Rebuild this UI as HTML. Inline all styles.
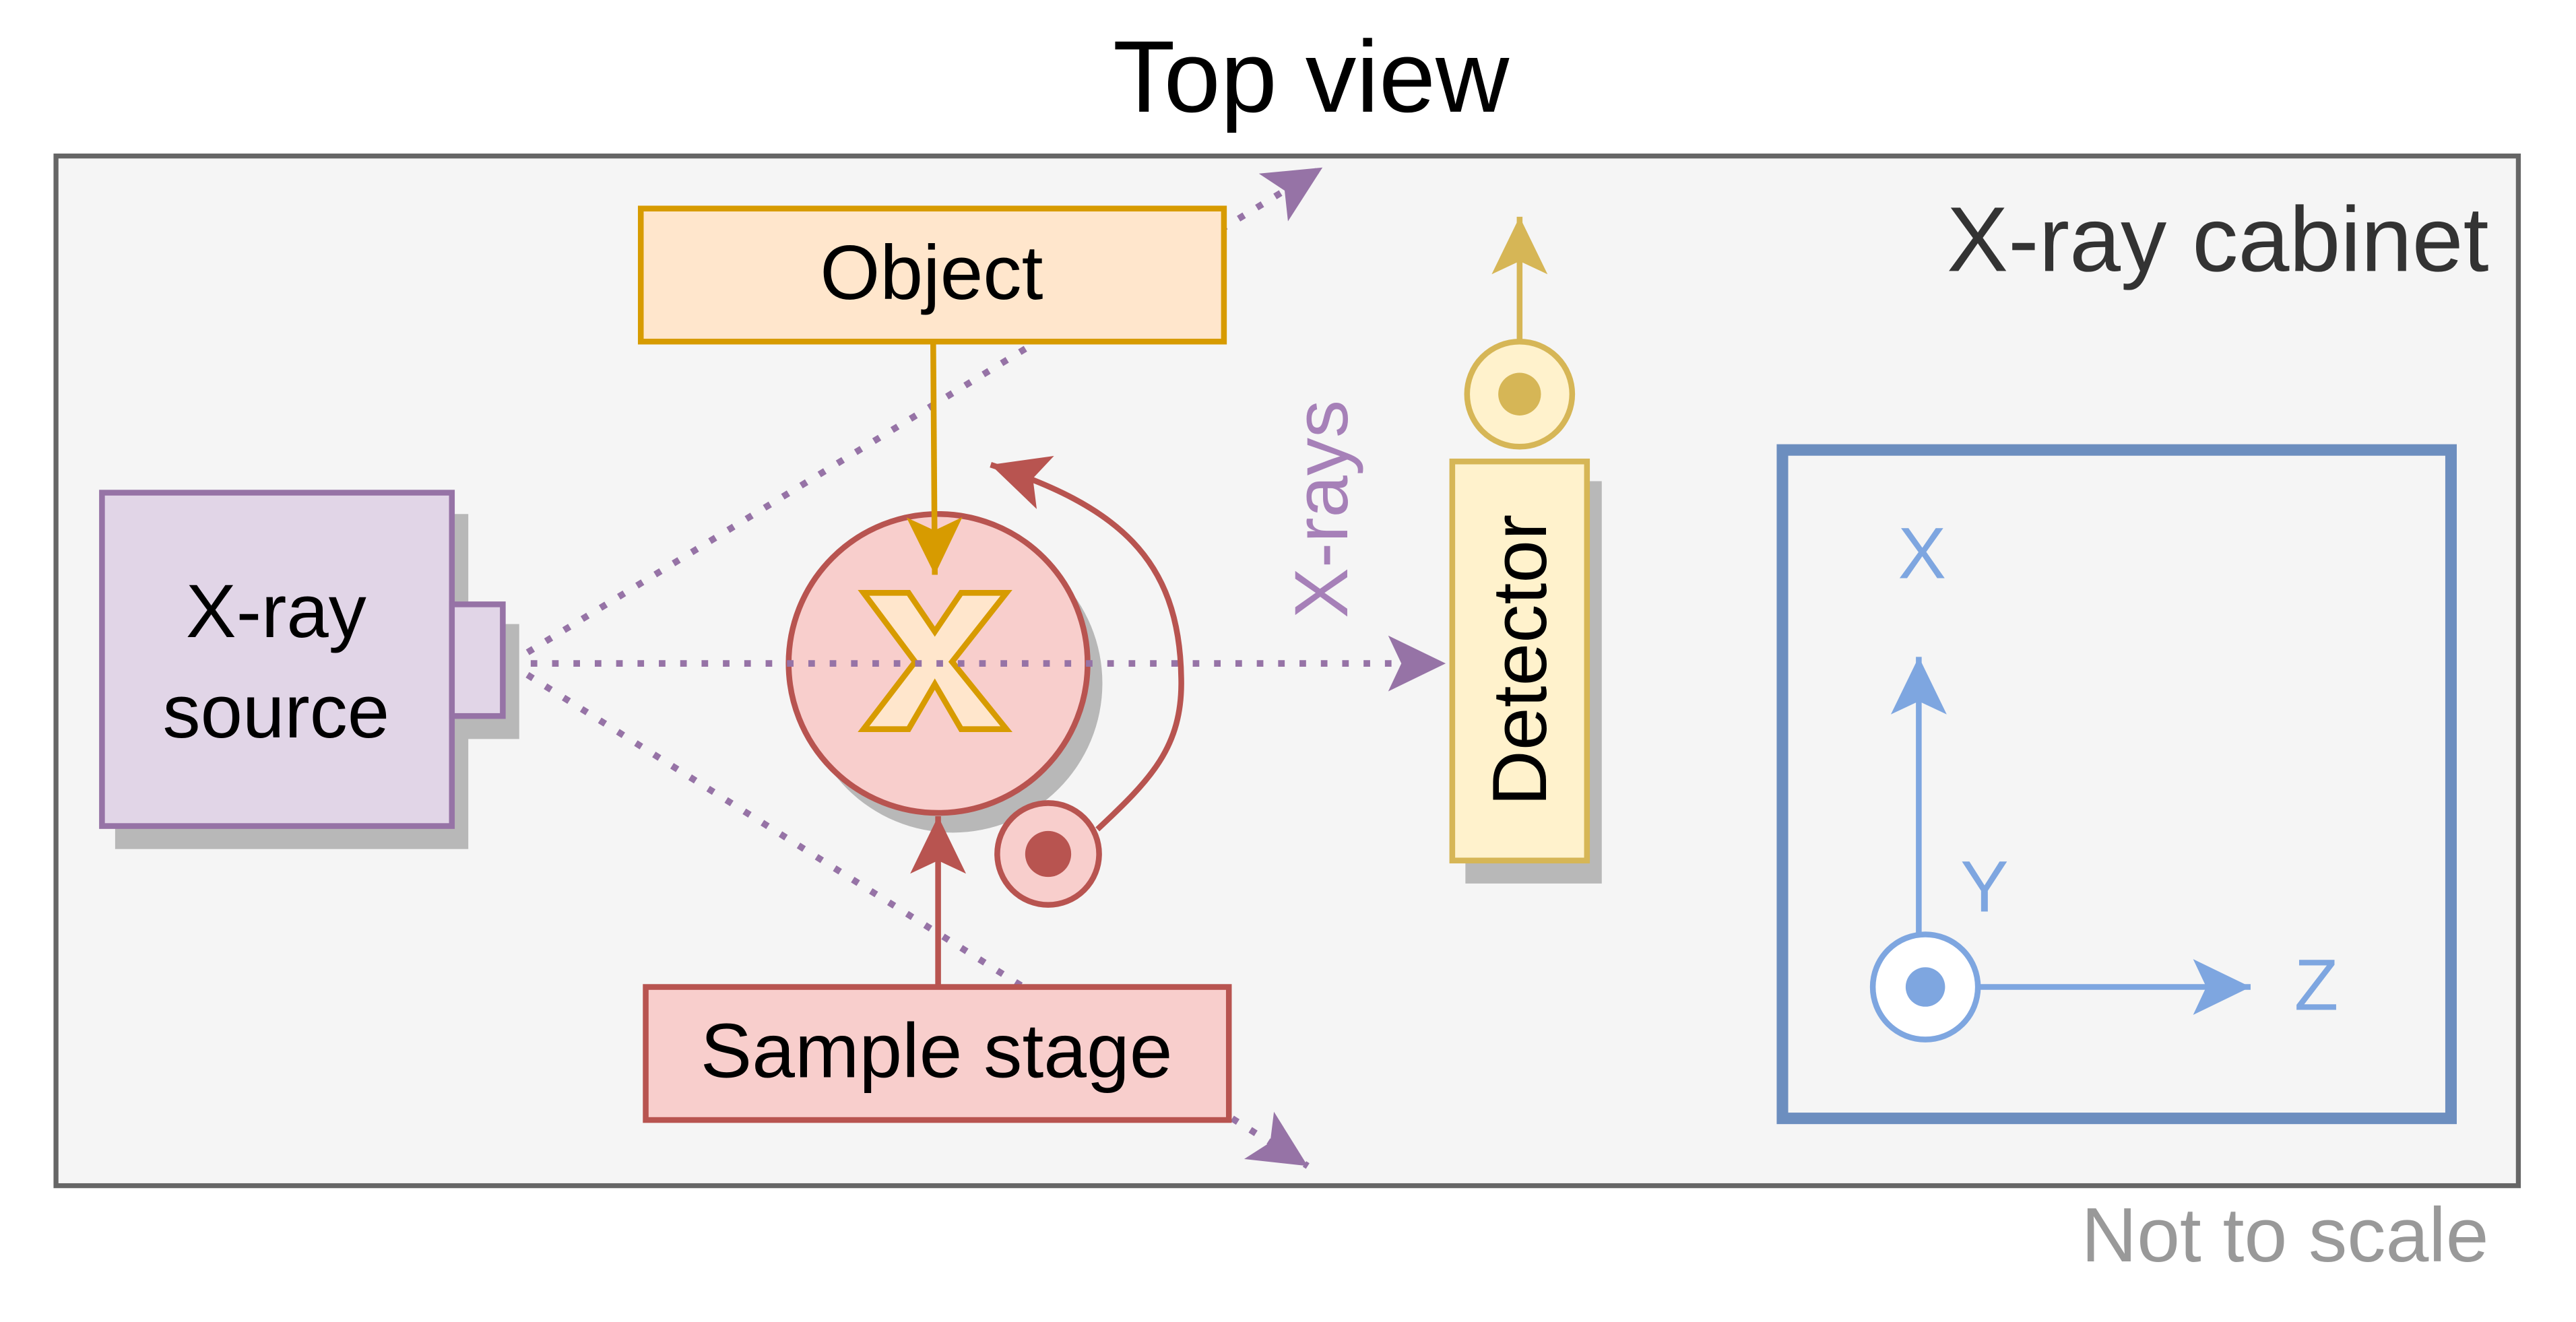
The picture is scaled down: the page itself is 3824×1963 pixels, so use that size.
<!DOCTYPE html>
<html><head><meta charset="utf-8"><style>html,body{margin:0;padding:0;background:#fff}svg{display:block}</style></head>
<body>
<svg width="3824" height="1963" viewBox="0 0 1568 805" xmlns="http://www.w3.org/2000/svg" font-family="Liberation Sans, Arial, sans-serif">
<defs>
<marker id="ap" markerUnits="userSpaceOnUse" markerWidth="40" markerHeight="40" viewBox="-36 -20 40 40" refX="0" refY="0" orient="auto"><path d="M0,0 L-35,-17 L-27,0 L-35,17 Z" fill="#9673a6"/></marker>
<marker id="ar" markerUnits="userSpaceOnUse" markerWidth="40" markerHeight="40" viewBox="-36 -20 40 40" refX="0" refY="0" orient="auto"><path d="M0,0 L-35,-17 L-27,0 L-35,17 Z" fill="#b85450"/></marker>
<marker id="ao" markerUnits="userSpaceOnUse" markerWidth="40" markerHeight="40" viewBox="-36 -20 40 40" refX="0" refY="0" orient="auto"><path d="M0,0 L-35,-17 L-27,0 L-35,17 Z" fill="#d79b00"/></marker>
<marker id="ay" markerUnits="userSpaceOnUse" markerWidth="40" markerHeight="40" viewBox="-36 -20 40 40" refX="0" refY="0" orient="auto"><path d="M0,0 L-35,-17 L-27,0 L-35,17 Z" fill="#d6b656"/></marker>
<marker id="ab" markerUnits="userSpaceOnUse" markerWidth="40" markerHeight="40" viewBox="-36 -20 40 40" refX="0" refY="0" orient="auto"><path d="M0,0 L-35,-17 L-27,0 L-35,17 Z" fill="#7ea6e0"/></marker>
</defs>
<rect width="1568" height="805" fill="#fff"/>
<text x="798" y="68" font-size="62" text-anchor="middle" fill="#000">Top view</text>
<rect x="34" y="95" width="1499" height="627" fill="#f5f5f5" stroke="#666" stroke-width="3"/>
<text x="1515" y="165" font-size="56" text-anchor="end" fill="#333">X-ray cabinet</text>
<text x="1515" y="768" font-size="47" text-anchor="end" fill="#999">Not to scale</text>

<circle cx="580" cy="416" r="91" fill="#b8b8b8"/>
<circle cx="571" cy="404" r="91" fill="#f8cecc" stroke="#b85450" stroke-width="3.5"/>
<polygon points="525.6,361 553,361 569,384.6 585,361 612.6,361 579.5,403 612.6,444 585,444 569,416.6 553,444 525.6,444 557,403" fill="#ffe6cc" stroke="#d79b00" stroke-width="3.5"/>

<g stroke="#9673a6" stroke-width="4" stroke-dasharray="4 9" fill="none">
<line x1="310" y1="404" x2="880" y2="404" marker-end="url(#ap)"/>
<line x1="310" y1="404" x2="805" y2="102" marker-end="url(#ap)"/>
<line x1="310" y1="404" x2="796" y2="710" marker-end="url(#ap)"/>
</g>
<text transform="translate(820,310) rotate(-90)" font-size="46" text-anchor="middle" fill="#a680b8">X-rays</text>

<rect x="70" y="313" width="215" height="204" fill="#b8b8b8"/>
<rect x="283" y="380" width="33" height="70" fill="#b8b8b8"/>
<rect x="62" y="300" width="213" height="203" fill="#e1d5e7" stroke="#9673a6" stroke-width="3.5"/>
<rect x="275" y="368" width="31" height="68" fill="#e1d5e7" stroke="#9673a6" stroke-width="3.5"/>
<text x="168" y="388" font-size="46" text-anchor="middle">X-ray</text>
<text x="168" y="449" font-size="46" text-anchor="middle">source</text>

<rect x="390" y="127" width="355" height="81" fill="#ffe6cc" stroke="#d79b00" stroke-width="3.5"/>
<text x="567" y="182" font-size="47" text-anchor="middle">Object</text>
<line x1="568" y1="208" x2="569" y2="350" stroke="#d79b00" stroke-width="3.5" marker-end="url(#ao)"/>

<rect x="393" y="601" width="355" height="81" fill="#f8cecc" stroke="#b85450" stroke-width="3.5"/>
<text x="570" y="656" font-size="47" text-anchor="middle">Sample stage</text>
<line x1="571" y1="601" x2="571" y2="497" stroke="#b85450" stroke-width="3.5" marker-end="url(#ar)"/>

<circle cx="638" cy="520" r="31" fill="#f8cecc" stroke="#b85450" stroke-width="3.5"/>
<circle cx="638" cy="520" r="14" fill="#b85450"/>
<path d="M668,505 C700,475 720,455 719,413 C718,340 680,308 603,283" fill="none" stroke="#b85450" stroke-width="3.5" marker-end="url(#ar)"/>

<rect x="892" y="293" width="83" height="245" fill="#b8b8b8"/>
<rect x="884" y="281" width="82" height="243" fill="#fff2cc" stroke="#d6b656" stroke-width="3.5"/>
<text transform="translate(941,402) rotate(-90)" font-size="47" text-anchor="middle">Detector</text>
<circle cx="925" cy="240" r="32" fill="#fff2cc" stroke="#d6b656" stroke-width="3.5"/>
<circle cx="925" cy="240" r="13" fill="#d6b656"/>
<line x1="925" y1="208" x2="925" y2="132" stroke="#d6b656" stroke-width="3.5" marker-end="url(#ay)"/>

<rect x="1085" y="274" width="407" height="407" fill="none" stroke="#6c8ebf" stroke-width="7"/>
<line x1="1168" y1="569" x2="1168" y2="400" stroke="#7ea6e0" stroke-width="3.5" marker-end="url(#ab)"/>
<line x1="1205" y1="601" x2="1370" y2="601" stroke="#7ea6e0" stroke-width="3.5" marker-end="url(#ab)"/>
<circle cx="1172" cy="601" r="32" fill="#fff" stroke="#7ea6e0" stroke-width="3.5"/>
<circle cx="1172" cy="601" r="12" fill="#7ea6e0"/>
<text x="1170" y="352" font-size="44" text-anchor="middle" fill="#7ea6e0">X</text>
<text x="1208" y="555" font-size="44" text-anchor="middle" fill="#7ea6e0">Y</text>
<text x="1410" y="615" font-size="44" text-anchor="middle" fill="#7ea6e0">Z</text>
</svg>
</body></html>
